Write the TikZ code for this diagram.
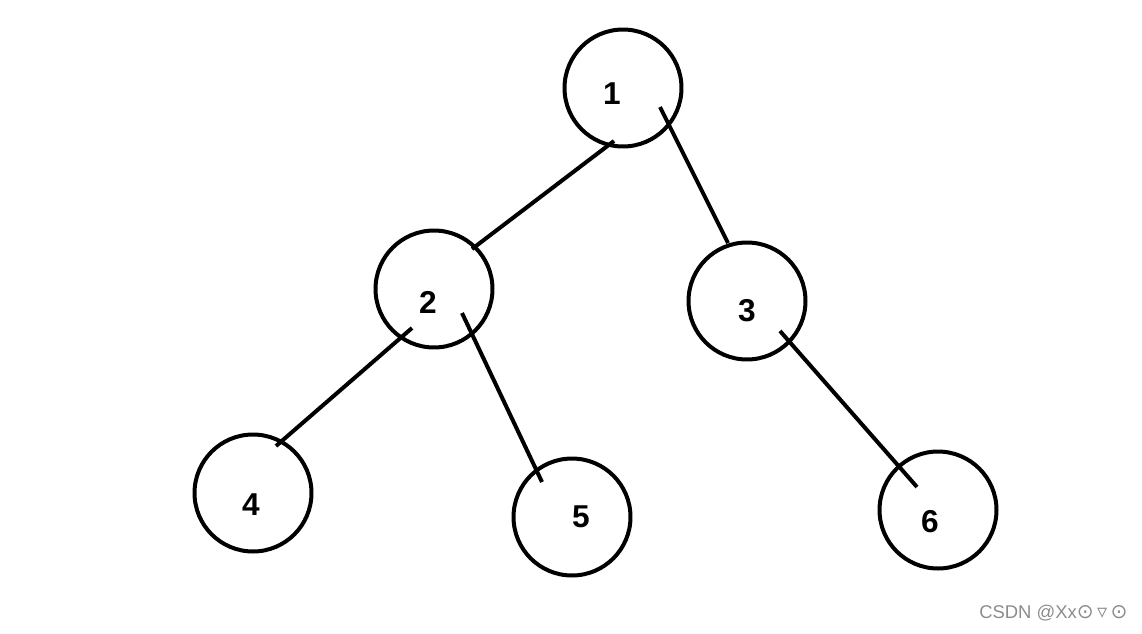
\documentclass[tikz,border=0pt]{standalone}
\usepackage{fontspec}
\setmainfont{Liberation Sans}
\newfontfamily\symfont{DejaVu Sans}
\usetikzlibrary{calc}
\begin{document}
\begin{tikzpicture}[x=0.02cm,y=-0.02cm,
  treenode/.style={circle,draw=black,line width=0.08cm,minimum size=2.34cm,inner sep=0pt},
  numlabel/.style={font=\fontsize{18pt}{20pt}\selectfont\bfseries,inner sep=0pt},
  edge/.style={line width=0.08cm,draw=black}]
\useasboundingbox (0,0) rectangle (1142,633);
\node[treenode] (n1) at (623,88) {};
\node[treenode] (n2) at (434,289) {};
\node[treenode] (n3) at (747,301) {};
\node[treenode] (n4) at (253,493) {};
\node[treenode] (n5) at (572,517) {};
\node[treenode] (n6) at (938,510) {};
\node[numlabel] (t1) at (612,94) {1};
\node[numlabel] (t2) at (428,302) {2};
\node[numlabel] (t3) at (747,311) {3};
\node[numlabel] (t4) at (251,505) {4};
\node[numlabel] (t5) at (581,517) {5};
\node[numlabel] (t6) at (930,522) {6};
\draw[edge] ($(n1)+(-9,53)$) -- ($(n2)+(38,-40)$);
\draw[edge] ($(n1)+(37,19)$) -- ($(n3)+(-19,-58)$);
\draw[edge] ($(n2)+(-22,39)$) -- ($(n4)+(23,-47)$);
\draw[edge] ($(n2)+(28,24)$) -- ($(n5)+(-30,-35)$);
\draw[edge] ($(n3)+(33,30)$) -- ($(n6)+(-21,-23)$);
\node[anchor=east,text=black!45,font=\fontsize{10.5pt}{12pt}\selectfont,inner sep=0pt] (wm) at (1128,613) {CSDN @Xx{\symfont\fontsize{11.5pt}{12pt}\selectfont ⊙\,▿\,⊙}};
\end{tikzpicture}
\end{document}
